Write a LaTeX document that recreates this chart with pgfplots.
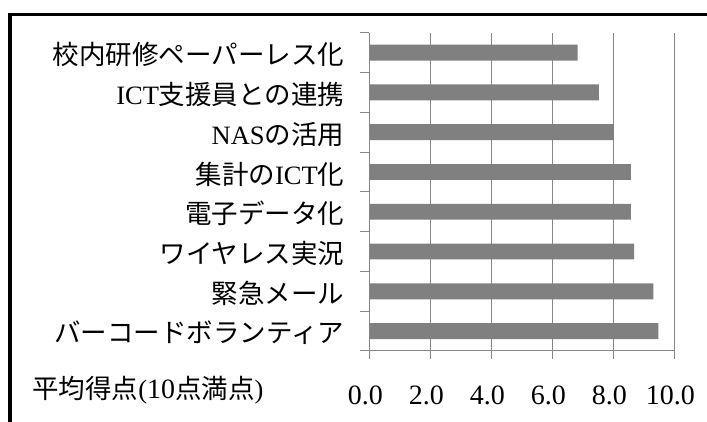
\documentclass[border=0pt]{standalone}
\usepackage{fontspec}
\setmainfont{Liberation Serif}
\newfontfamily\jp{Noto Sans CJK JP}
\usepackage{pgfplots}
\pgfplotsset{compat=1.18}
\definecolor{bargray}{HTML}{808080}
\definecolor{gridgray}{HTML}{878787}
\newcommand{\lbl}{\fontsize{13.25}{16}\selectfont}
\newcommand{\num}{\fontsize{14}{16}\selectfont}

\begin{document}
\begin{tikzpicture}
\useasboundingbox (0pt,0pt) rectangle (353.5pt,211pt);
% chart frame (left and top edges)
\begin{scope}
\clip (0pt,0pt) rectangle (353.5pt,211pt);
\draw[line width=1.6pt] (5pt,-5pt) -- (5pt,203.85pt) -- (365pt,203.85pt);
\end{scope}

\begin{axis}[
  at={(184.65pt,35.5pt)}, anchor=south west,
  scale only axis, width=152.5pt, height=159.15pt,
  xbar, bar width=0.4,
  xmin=0, xmax=10, ymin=-0.5, ymax=7.5,
  axis lines=left,
  axis line style={-, gridgray, line width=0.5pt},
  tick align=outside,
  major tick length=4pt,
  minor tick length=4.5pt,
  tick style={gridgray, line width=0.5pt},
  xmajorgrids,
  major grid style={gridgray, line width=0.5pt},
  xtick={0,2,...,10},
  /pgf/number format/assume math mode=true,
  xticklabel style={font=\num, xshift=-2pt, yshift=-10pt,
    /pgf/number format/.cd, fixed, fixed zerofill, precision=1, /tikz/.cd},
  ytick={0,1,2,3,4,5,6,7},
  major y tick style={draw=none},
  minor ytick={-0.5,0.5,...,7.5},
  yticklabels={
    {\jp バーコードボランティア},
    {\jp 緊急メール},
    {\jp ワイヤレス実況},
    {\jp 電子データ化},
    {\jp 集計の}ICT{\jp 化},
    NAS{\jp の活用},
    ICT{\jp 支援員との連携},
    {\jp 校内研修ペーパーレス化}},
  yticklabel style={font=\lbl, xshift=-5pt, yshift=-1pt},
]
\addplot[fill=bargray, draw=none] coordinates {
  (9.48,0) (9.31,1) (8.68,2) (8.58,3) (8.58,4) (8.02,5) (7.53,6) (6.83,7)
};
\end{axis}

\node[anchor=west, inner sep=0pt, font=\lbl] at (16pt,16pt)
  {{\jp 平均得点}({\num 10}{\jp 点満点})};
\end{tikzpicture}
\end{document}
